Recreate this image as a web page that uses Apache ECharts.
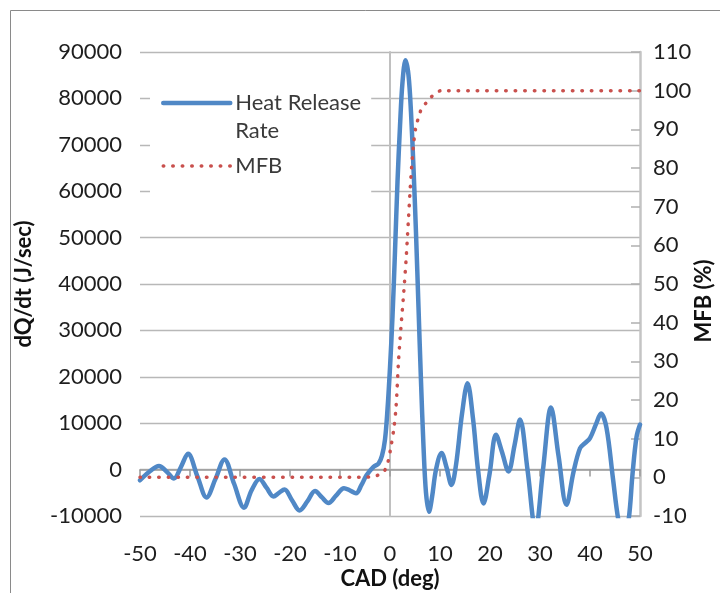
<!DOCTYPE html>
<html>
<head>
<meta charset="utf-8">
<script src="https://cdn.jsdelivr.net/npm/echarts@6/dist/echarts.min.js"></script>
<style>
html,body{margin:0;padding:0;background:#fff;}
#chart{width:720px;height:593px;}
</style>
</head>
<body>
<div id="chart"></div>
<script>
// ---- data ----
const hrrCad = [-50,-48.2,-46.2,-44.7,-43.2,-41.8,-40.4,-38.5,-36.7,-34.9,-33.1,-31.2,-29.2,-27.7,-26.1,-24.7,-23.3,-22.2,-21.1,-19.6,-18.1,-16.5,-15.0,-13.6,-12.3,-10.8,-9.2,-8.0,-6.8,-5.7,-4.7,-3.3,-2.3,-1.6,-1.0,-0.5,0,0.5,1.0,1.5,2.0,2.5,3.1,3.7,4.2,4.7,5.2,5.7,6.2,6.7,7.2,7.8,8.4,9.2,10.3,11.3,12.3,13.2,14.4,15.5,16.6,17.6,18.7,19.9,21.2,22.4,23.7,24.9,26.0,27.5,29.1,30.6,32.2,33.7,35.3,36.7,38.0,39.0,40.0,41.2,42.2,43.3,44.6,45.7,46.7,47.7,48.5,49.3,50];
const hrrValues = [-2300,-500,800,-400,-1900,600,3400,-1500,-6000,-2000,2200,-3000,-8200,-4500,-2000,-3900,-5800,-5000,-4300,-6600,-8800,-6800,-4600,-6000,-7200,-5600,-4000,-4500,-5100,-3300,-1200,600,1300,3000,6500,13000,22000,33000,47000,62000,74000,83500,88200,85000,77000,65000,51000,35000,19000,5000,-5000,-9100,-6000,0,3600,500,-3300,1000,12000,18600,11000,0,-7300,-1000,7500,3800,-400,5200,10800,0,-13000,0,13400,3000,-7600,-500,4600,5700,6800,9800,12100,9000,-2000,-11000,-14500,-11000,-1000,7000,9700];

const mfbCad = [-50,-6,-4,-3,-2,-1.3,-0.8,-0.3,0.2,0.7,1.2,1.7,2.2,2.7,3.2,3.7,4.2,4.7,5.2,5.7,6.2,7.2,8.2,9.2,10.2,50];
const mfbValues = [0,0,0.1,0.3,0.8,1.3,2.5,4.5,8,12,18,30,39,47,56,67,78,86,90.8,93,95,96.8,98.3,99.4,100,100];

const seriesNames = ['Heat Release Rate', 'MFB'];
const xTitle = 'CAD (deg)';
const yLeftTitle = 'dQ/dt (J/sec)';
const yRightTitle = 'MFB (%)';

const FONT = 'Lato';
const zip = (a, b) => a.map((v, i) => [v, b[i]]);
const plain = v => String(v);

const chart = echarts.init(document.getElementById('chart'), null, {renderer: 'canvas'});
const option = {
  animation: false,
  backgroundColor: '#ffffff',
  textStyle: {fontFamily: FONT},
  grid: {left: 140, right: 80, top: 52, bottom: 77, containLabel: false, outerBoundsMode: 'none'},
  legend: {
    orient: 'vertical',
    left: 150, top: 57,
    padding: [4, 10, 20, 11],
    backgroundColor: '#ffffff',
    itemWidth: 67, itemHeight: 14, itemGap: 7,
    selectedMode: false,
    itemStyle: {opacity: 0},
    data: [
      {name: seriesNames[0], lineStyle: {width: 4.5}},
      {name: seriesNames[1], lineStyle: {width: 3.5}}
    ],
    formatter: n => n === seriesNames[0] ? '\nHeat Release\nRate' : n,
    textStyle: {fontFamily: FONT, fontSize: 22, lineHeight: 28, color: '#3a3a3a'}
  },
  xAxis: [
    {
      type: 'value', min: -50, max: 50, interval: 10, position: 'bottom',
      axisLine: {show: false, onZero: false},
      axisTick: {show: false},
      splitLine: {show: false},
      axisLabel: {fontFamily: FONT, fontSize: 22, color: '#1e1e1e', margin: 27, formatter: plain},
      name: xTitle, nameLocation: 'middle', nameGap: 52, nameMoveOverlap: false,
      nameTextStyle: {fontFamily: FONT, fontSize: 22, fontWeight: 'bold', color: '#111'}
    },
    {
      type: 'value', min: -50, max: 50, interval: 10, position: 'bottom',
      axisLine: {show: true, onZero: true, onZeroAxisIndex: 0, lineStyle: {color: '#9a9a9a', width: 1.5}},
      axisTick: {show: true, length: 7, lineStyle: {color: '#9a9a9a', width: 1.5}},
      axisLabel: {show: false},
      splitLine: {show: false}
    }
  ],
  yAxis: [
    {
      type: 'value', position: 'left', min: -10000, max: 90000, interval: 10000,
      axisLine: {show: false, onZero: false},
      axisTick: {show: false},
      axisLabel: {fontFamily: FONT, fontSize: 22, color: '#1e1e1e', margin: 18, formatter: plain},
      splitLine: {show: true, lineStyle: {color: '#b8b8b8', width: 1.3}},
      name: yLeftTitle, nameLocation: 'middle', nameRotate: 90, nameGap: 105, nameMoveOverlap: false,
      nameTextStyle: {fontFamily: FONT, fontSize: 22, fontWeight: 'bold', color: '#111'}
    },
    {
      type: 'value', position: 'right', min: -10, max: 110, interval: 10,
      axisLine: {show: true, onZero: false, lineStyle: {color: '#c4c4c4', width: 2.5}},
      axisTick: {show: true, inside: true, length: 9, lineStyle: {color: '#b0b0b0', width: 1.5}},
      axisLabel: {fontFamily: FONT, fontSize: 22, color: '#1e1e1e', margin: 13, formatter: plain},
      splitLine: {show: false},
      name: yRightTitle, nameLocation: 'middle', nameRotate: 90, nameGap: 53, nameMoveOverlap: false,
      nameTextStyle: {fontFamily: FONT, fontSize: 22, fontWeight: 'bold', color: '#111', padding: [0, 34, 0, 0]}
    },
    {
      type: 'value', position: 'left', min: -10000, max: 90000, interval: 10000,
      axisLine: {show: true, onZero: true, onZeroAxisIndex: 0, lineStyle: {color: '#c0c0c0', width: 2}},
      axisTick: {show: false},
      axisLabel: {show: false},
      splitLine: {show: false}
    }
  ],
  series: [
    {
      name: seriesNames[0], type: 'line', xAxisIndex: 0, yAxisIndex: 0,
      data: zip(hrrCad, hrrValues),
      smooth: 0.35, symbol: 'none', clip: true, z: 3,
      itemStyle: {color: '#5088c6'},
      lineStyle: {color: '#5088c6', width: 4.5, cap: 'round', join: 'round'}
    },
    {
      name: seriesNames[1], type: 'line', xAxisIndex: 0, yAxisIndex: 1,
      data: zip(mfbCad, mfbValues),
      smooth: 0.3, symbol: 'none', clip: true, z: 4,
      itemStyle: {color: '#c9504d'},
      lineStyle: {color: '#c9504d', width: 3.5, type: [0.5, 9], cap: 'round'}
    }
  ],
  graphic: [
    {type: 'rect', silent: true, z: -10, shape: {x: 10.5, y: 10.5, width: 760, height: 640},
     style: {fill: 'none', stroke: '#8a8a8a', lineWidth: 1}}
  ]
};
chart.setOption(option);
</script>
</body>
</html>
